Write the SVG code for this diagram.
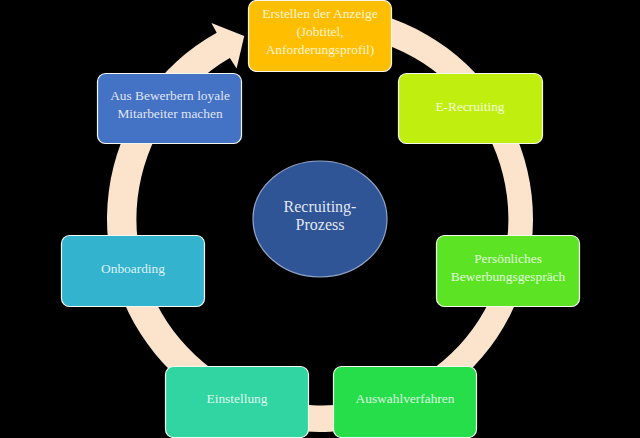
<svg xmlns="http://www.w3.org/2000/svg" width="640" height="438" viewBox="0 0 640 438">
  <style>
    .box { stroke: #F4F8EE; stroke-width: 1.2; }
    .t { font-family: "Liberation Serif", "Times New Roman", serif; font-size: 13.4px; fill: #FFFFFF; fill-opacity: 0.85; text-anchor: middle; }
    .tc { font-family: "Liberation Serif", "Times New Roman", serif; font-size: 16px; fill: #FFFFFF; fill-opacity: 0.88; text-anchor: middle; }
  </style>
  <rect x="0" y="0" width="640" height="438" fill="#000000"/>
  <g id="connectors">
    <path d="M 356.99 9.24 A 213 213 0 1 1 216.73 32.71 L 211.4 23.09 L 244.23 36.07 L 236.61 68.57 L 229.83 58.07 A 186 186 0 1 0 352.30 35.82 Z" fill="#FCE4CC"/>
  </g>
  <g id="center">
    <ellipse cx="320" cy="219" rx="67" ry="58" fill="#2F5597" stroke="#8FA6C8" stroke-width="1.2"/>
    <text class="tc" x="320" y="212">Recruiting-</text>
    <text class="tc" x="320" y="230">Prozess</text>
  </g>
  <g id="n-anzeige">
    <rect class="box" x="248.5" y="0.5" width="143" height="71" rx="8" fill="#FFBF00"/>
    <text class="t" x="320" y="18">Erstellen der Anzeige</text>
    <text class="t" x="320" y="36">(Jobtitel,</text>
    <text class="t" x="320" y="54">Anforderungsprofil)</text>
  </g>
  <g id="n-erecruiting">
    <rect class="box" x="398.5" y="73.5" width="144" height="70" rx="8" fill="#C0EF0F"/>
    <text class="t" x="470" y="111">E-Recruiting</text>
  </g>
  <g id="n-gespraech">
    <rect class="box" x="436.5" y="235.5" width="143" height="71" rx="8" fill="#5CE424"/>
    <text class="t" x="508" y="263">Persönliches</text>
    <text class="t" x="508" y="281">Bewerbungsgespräch</text>
  </g>
  <g id="n-auswahl">
    <rect class="box" x="333.5" y="366.5" width="143" height="71" rx="8" fill="#25DE4A"/>
    <text class="t" x="405" y="403">Auswahlverfahren</text>
  </g>
  <g id="n-einstellung">
    <rect class="box" x="165.5" y="366.5" width="143" height="71" rx="8" fill="#30D5A2"/>
    <text class="t" x="237" y="403">Einstellung</text>
  </g>
  <g id="n-onboarding">
    <rect class="box" x="61.5" y="235.5" width="143" height="71" rx="8" fill="#33B3CE"/>
    <text class="t" x="133" y="273">Onboarding</text>
  </g>
  <g id="n-loyal">
    <rect class="box" x="97.5" y="73.5" width="144" height="70" rx="8" fill="#4472C4"/>
    <text class="t" x="170" y="100">Aus Bewerbern loyale</text>
    <text class="t" x="170" y="118">Mitarbeiter machen</text>
  </g>
</svg>
